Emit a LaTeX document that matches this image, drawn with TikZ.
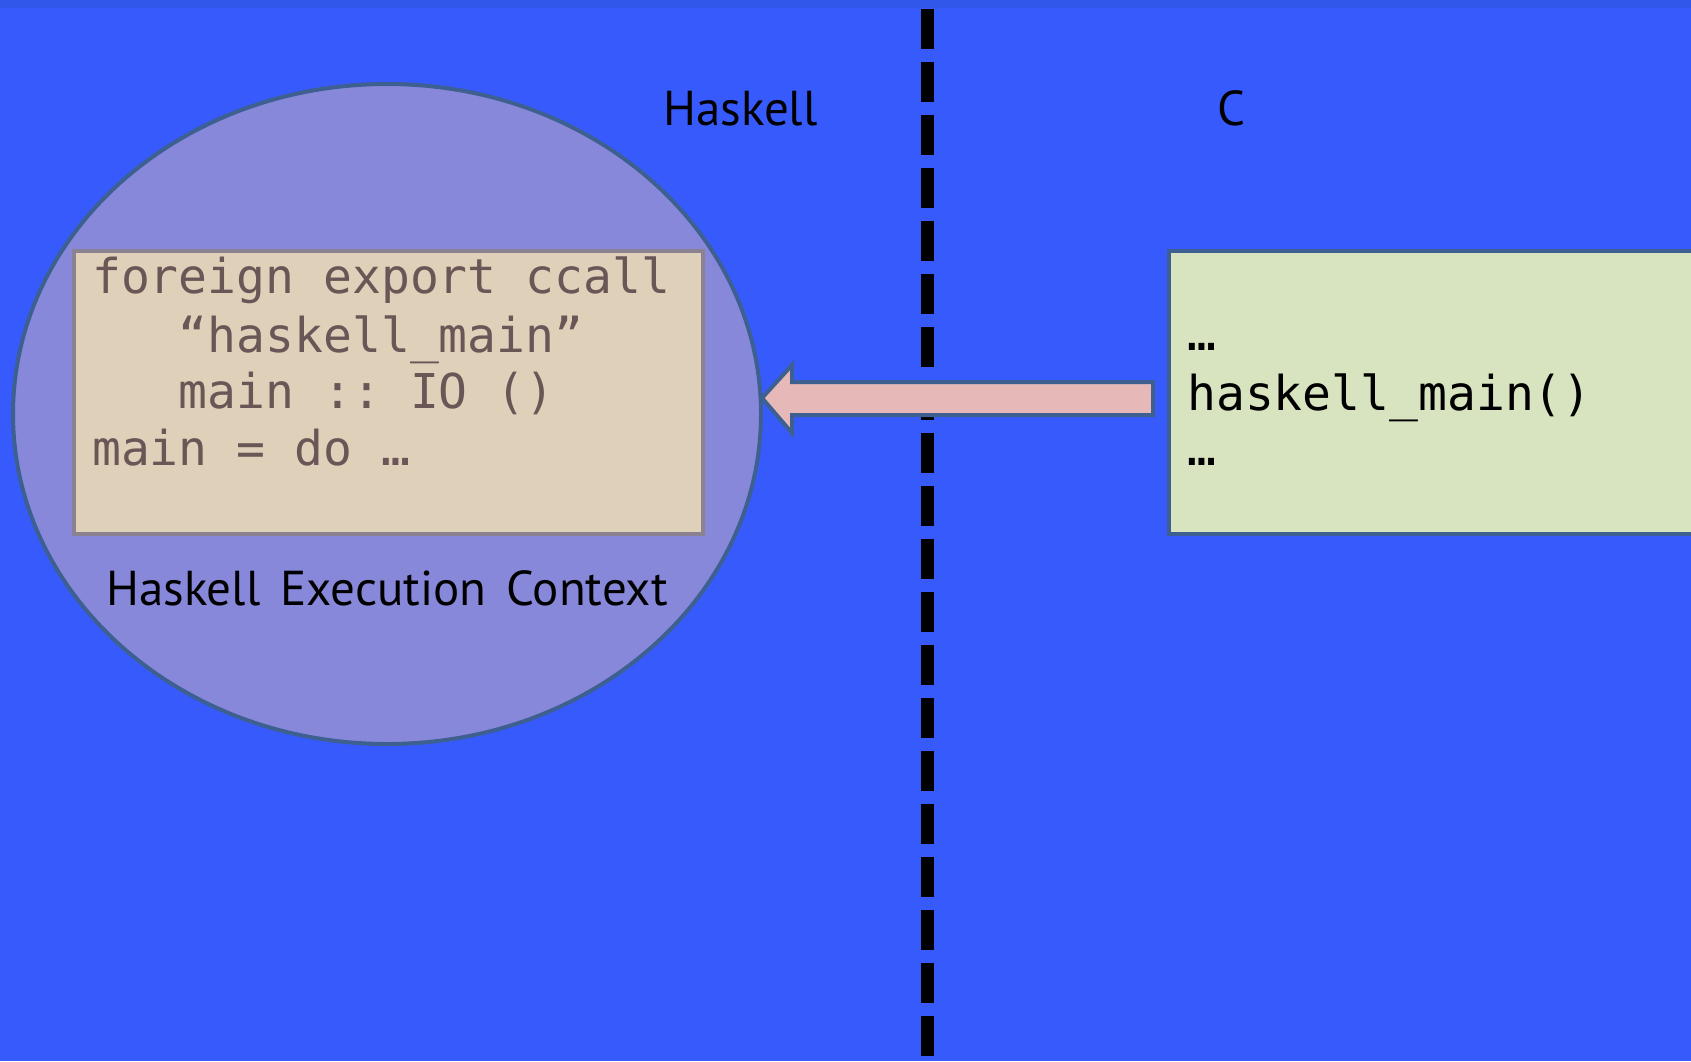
\documentclass[tikz,border=0pt]{standalone}
\usepackage{fontspec}
\usetikzlibrary{shapes.geometric,calc}
\setmainfont{PT Sans}
\setmonofont{DejaVu Sans Mono}
\definecolor{bgblue}{HTML}{375AFD}
\definecolor{topblue}{HTML}{3157EA}
\definecolor{ellfill}{HTML}{8888DA}
\definecolor{edgeblue}{HTML}{3D6090}
\definecolor{tanfill}{HTML}{DFD0B9}
\definecolor{tanedge}{HTML}{8A8290}
\definecolor{codebrown}{HTML}{6A5656}
\definecolor{greenfill}{HTML}{D8E3BF}
\definecolor{arrowfill}{HTML}{E6B8B7}
\tikzset{
  label/.style={anchor=base west, inner sep=0pt, font=\fontsize{49}{57}\selectfont, text=black},
  codeline/.style={anchor=base west, inner sep=0pt, font=\ttfamily\fontsize{48}{57}\selectfont, text=codebrown},
  cline/.style={anchor=base west, inner sep=0pt, font=\ttfamily\fontsize{48}{57}\selectfont, text=black},
  divider/.style={line width=13pt, dash pattern=on 40pt off 13pt, black},
}
\begin{document}
\begin{tikzpicture}[x=1pt,y=-1pt]
\useasboundingbox (0,0) rectangle (1691,1061);
\fill[bgblue] (0,0) rectangle (1691,1061);
\fill[topblue] (0,0) rectangle (1691,8);
% divider
\coordinate (dtop) at (927.5,9);
\coordinate (dbot) at (927.5,1075);
\draw[divider] (dtop) -- (dbot);
% ellipse
\node[ellipse, draw=edgeblue, fill=ellfill, line width=4pt, minimum width=748pt, minimum height=660pt, inner sep=0pt] (ctx) at (387,414) {};
% tan box
\node[draw=tanedge, fill=tanfill, line width=4pt, minimum width=629pt, minimum height=283pt, inner sep=0pt, anchor=north west] (code) at (72,249) {};
\node[codeline] (c1) at (92,293) {foreign export ccall};
\node[codeline] (c2) at (92,352) {\phantom{xxx}“haskell\_main”};
\node[codeline] (c3) at (92,408) {\phantom{xxx}main :: IO ()};
\node[codeline] (c4) at (92,465) {main = do …};
\node[label] (ctxlabel) at (106,605) {Haskell\hspace{7pt} Execution\hspace{7pt} Context};
% green box
\node[draw=edgeblue, fill=greenfill, line width=4pt, minimum width=540pt, minimum height=283pt, inner sep=0pt, anchor=north west] (cbox) at (1167,249) {};
\node[cline] (g1) at (1187,350) {…};
\node[cline] (g2) at (1187,410) {haskell\_main()};
\node[cline] (g3) at (1187,465) {…};
% labels
\node[label] (hs) at (663,125) {Haskell};
\node[label] (cl) at (1217,125) {C};
% block arrow from C box to context
\coordinate (tip) at (762,398);
\draw[edgeblue, fill=arrowfill, line width=4pt, line join=miter]
  (tip) -- +(30,-33) -- +(30,-16) -- +(391,-16) -- +(391,17) -- +(30,17) -- +(30,35) -- cycle;
\end{tikzpicture}
\end{document}
